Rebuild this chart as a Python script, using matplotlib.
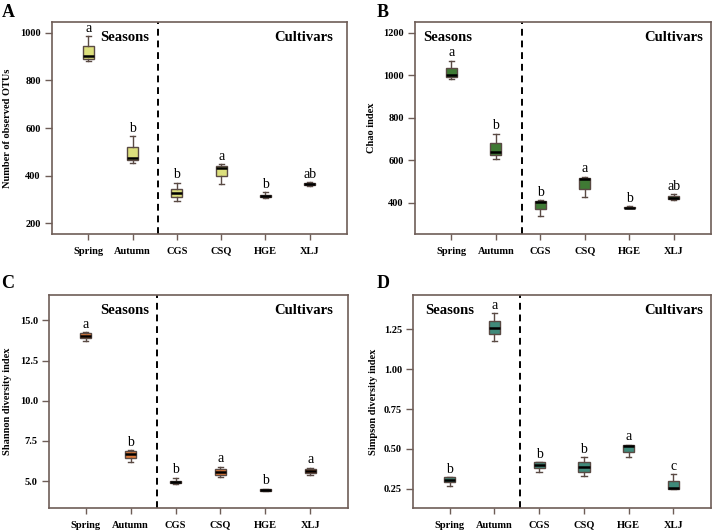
import matplotlib
matplotlib.use("Agg")
import matplotlib.pyplot as plt

plt.rcParams['font.family'] = ['Liberation Serif', 'DejaVu Serif']

groups = ['Spring', 'Autumn', 'CGS', 'CSQ', 'HGE', 'XLJ']

# box stats: whisker low, q1, median, q3, whisker high
otu_lo = [883, 453, 295, 364, 308, 357]
otu_q1 = [892, 465, 309, 399, 310, 362]
otu_med = [904, 476, 326, 432, 313, 367]
otu_q3 = [945, 520, 345, 442, 320, 371]
otu_hi = [986, 565, 371, 448, 330, 373]
otu_let = ['a', 'b', 'b', 'a', 'b', 'ab']

chao_lo = [982, 604, 337, 427, 374, 415]
chao_q1 = [990, 623, 370, 467, 376, 418]
chao_med = [1001, 637, 403, 510, 378, 425]
chao_q3 = [1035, 682, 409, 516, 380, 431]
chao_hi = [1068, 725, 412, 522, 383, 440]
chao_let = ['a', 'b', 'b', 'a', 'b', 'ab']

shan_lo = [13.71, 6.18, 4.82, 5.23, 4.38, 5.40]
shan_q1 = [13.90, 6.45, 4.85, 5.39, 4.40, 5.50]
shan_med = [14.05, 6.70, 4.95, 5.56, 4.46, 5.64]
shan_q3 = [14.19, 6.85, 5.02, 5.73, 4.50, 5.77]
shan_hi = [14.25, 6.91, 5.20, 5.89, 4.52, 5.83]
shan_let = ['a', 'b', 'b', 'a', 'b', 'a']

simp_lo = [0.267, 1.180, 0.354, 0.333, 0.452, 0.250]
simp_q1 = [0.291, 1.219, 0.381, 0.354, 0.483, 0.252]
simp_med = [0.308, 1.256, 0.400, 0.386, 0.517, 0.256]
simp_q3 = [0.323, 1.302, 0.417, 0.417, 0.527, 0.302]
simp_hi = [0.323, 1.350, 0.417, 0.448, 0.527, 0.343]
simp_let = ['b', 'a', 'b', 'b', 'a', 'c']

frame_col = '#6e5d57'
edge_col = '#5a4a44'

fig = plt.figure(figsize=(7.15, 5.32), dpi=100)


def panel(rect, lo, q1, med, q3, hi, letters, color, ylabel, ylim, yticks,
          yfmt, label, label_xy, seasons_x, seasons_ha, cult_x, ylab_x, text_y):
    ax = fig.add_axes(rect)
    stats = []
    for i in range(len(groups)):
        stats.append(dict(whislo=lo[i], q1=q1[i], med=med[i], q3=q3[i],
                          whishi=hi[i], fliers=[]))
    pos = list(range(1, len(groups) + 1))
    ax.bxp(stats, positions=pos, widths=0.25, patch_artist=True,
           boxprops=dict(facecolor=color, edgecolor=edge_col, linewidth=1.0),
           medianprops=dict(color='black', linewidth=1.8),
           whiskerprops=dict(color=edge_col, linewidth=1.0),
           capprops=dict(color=edge_col, linewidth=1.0),
           capwidths=0.12)
    for i, t in enumerate(letters):
        ax.annotate(t, (pos[i], hi[i]), xytext=(0, 1), textcoords='offset points',
                    ha='center', va='bottom', fontsize=10)
    ax.axvline(2.58, color='black', linestyle=(0, (3.5, 2.5)), linewidth=1.4)
    ax.set_xlim(0.18, 6.84)
    ax.set_ylim(*ylim)
    ax.set_xticks(pos)
    ax.set_xticklabels(groups, fontsize=7.5, fontweight='bold')
    ax.set_yticks(yticks)
    ax.set_yticklabels([yfmt.format(v) for v in yticks], fontsize=7.5,
                       fontweight='bold')
    ax.tick_params(axis='y', length=5, width=1.0, color=frame_col, pad=3)
    ax.tick_params(axis='x', length=4, width=1.0, color=frame_col, pad=5)
    for s in ax.spines.values():
        s.set_color(frame_col)
        s.set_linewidth(1.2)
    ax.set_ylabel(ylabel, fontsize=7.5, fontweight='bold')
    ax.yaxis.set_label_coords(ylab_x, 0.5)
    ax.text(seasons_x, text_y, 'Seasons', transform=ax.transAxes,
            ha=seasons_ha, va='center', fontsize=10.5, fontweight='bold')
    ax.text(cult_x, text_y, 'Cultivars', transform=ax.transAxes,
            ha='right', va='center', fontsize=10.5, fontweight='bold')
    fig.text(label_xy[0], label_xy[1], label, fontsize=13, fontweight='bold',
             ha='left', va='center')
    return ax


panel([0.0727, 0.560, 0.4126, 0.3985], otu_lo, otu_q1, otu_med, otu_q3, otu_hi,
      otu_let, '#dcdf7c', 'Number of observed OTUs', (155, 1045),
      [200, 400, 600, 800, 1000], '{:d}', 'A', (0.002, 0.977),
      0.329, 'right', 0.953, -0.136, 0.925)

panel([0.5804, 0.560, 0.414, 0.3985], chao_lo, chao_q1, chao_med, chao_q3,
      chao_hi, chao_let, '#3f7a34', 'Chao index', (253, 1250),
      [400, 600, 800, 1000, 1200], '{:d}', 'B', (0.527, 0.977),
      0.027, 'left', 0.973, -0.132, 0.925)

panel([0.0685, 0.0451, 0.418, 0.400], shan_lo, shan_q1, shan_med, shan_q3,
      shan_hi, shan_let, '#e07a3a', 'Shannon diversity index', (3.32, 16.57),
      [5.0, 7.5, 10.0, 12.5, 15.0], '{:.1f}', 'C', (0.002, 0.468),
      0.335, 'right', 0.95, -0.124, 0.93)

panel([0.5776, 0.0451, 0.4168, 0.400], simp_lo, simp_q1, simp_med, simp_q3,
      simp_hi, simp_let, '#3f8a7a', 'Simpson diversity index', (0.13, 1.464),
      [0.25, 0.50, 0.75, 1.00, 1.25], '{:.2f}', 'D', (0.527, 0.468),
      0.04, 'left', 0.973, -0.117, 0.93)

fig.savefig('out.png', dpi=100, facecolor='white')
